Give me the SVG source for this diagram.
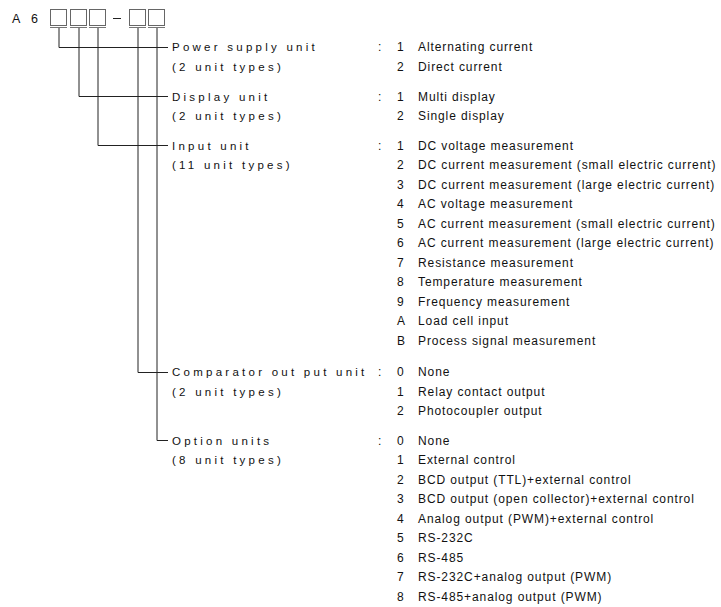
<svg xmlns="http://www.w3.org/2000/svg" width="721" height="607" viewBox="0 0 721 607">
<style>
text{font-family:"Liberation Sans",Arial,sans-serif;fill:#111}
.l{font-size:11.5px;letter-spacing:3.25px}
.r{font-size:12px;letter-spacing:0.9px}
.n{font-size:12px}
.h{font-size:12.5px}
.box{fill:#fff;stroke:#666;stroke-width:1}
.ln{fill:none;stroke:#222;stroke-width:1}
</style>
<rect width="721" height="607" fill="#fff"/>
<g id="code">
<text class="h" x="12" y="23">A</text>
<text class="h" x="31" y="23">6</text>
<rect class="box" x="50.5" y="9.5" width="16" height="16"/>
<rect class="box" x="70.5" y="9.5" width="16" height="16"/>
<rect class="box" x="89.5" y="9.5" width="16" height="16"/>
<line x1="113" y1="18.5" x2="121" y2="18.5" stroke="#222" stroke-width="1"/>
<rect class="box" x="129.5" y="9.5" width="16" height="16"/>
<rect class="box" x="148.5" y="9.5" width="16" height="16"/>
<g stroke="#777" stroke-width="1"><line x1="50" y1="27.5" x2="67" y2="27.5"/><line x1="70" y1="27.5" x2="87" y2="27.5"/><line x1="89" y1="27.5" x2="106" y2="27.5"/><line x1="129" y1="27.5" x2="146" y2="27.5"/><line x1="148" y1="27.5" x2="165" y2="27.5"/></g>
</g>
<g id="connectors">
<path class="ln" d="M59 28V47.5H168"/>
<path class="ln" d="M79 28V96.5H168"/>
<path class="ln" d="M98 28V145.5H168"/>
<path class="ln" d="M138 28V372.5H168"/>
<path class="ln" d="M157 28V440.5H168"/>
</g>
<g id="power">
<text class="l" x="172" y="51">Power supply unit</text>
<text class="l" x="172" y="70.5">(2 unit types)</text>
<text class="n" x="378" y="51">:</text>
<text class="n" x="397" y="51">1</text><text class="r" x="418" y="51">Alternating current</text>
<text class="n" x="397" y="70.5">2</text><text class="r" x="418" y="70.5">Direct current</text>
</g>
<g id="display">
<text class="l" x="172" y="100.5">Display unit</text>
<text class="l" x="172" y="120">(2 unit types)</text>
<text class="n" x="378" y="100.5">:</text>
<text class="n" x="397" y="100.5">1</text><text class="r" x="418" y="100.5">Multi display</text>
<text class="n" x="397" y="120">2</text><text class="r" x="418" y="120">Single display</text>
</g>
<g id="input">
<text class="l" x="172" y="149.5">Input unit</text>
<text class="l" x="172" y="169">(11 unit types)</text>
<text class="n" x="378" y="149.5">:</text>
<text class="n" x="397" y="149.5">1</text><text class="r" x="418" y="149.5">DC voltage measurement</text>
<text class="n" x="397" y="169">2</text><text class="r" x="418" y="169">DC current measurement (small electric current)</text>
<text class="n" x="397" y="188.5">3</text><text class="r" x="418" y="188.5">DC current measurement (large electric current)</text>
<text class="n" x="397" y="208">4</text><text class="r" x="418" y="208">AC voltage measurement</text>
<text class="n" x="397" y="227.5">5</text><text class="r" x="418" y="227.5">AC current measurement (small electric current)</text>
<text class="n" x="397" y="247">6</text><text class="r" x="418" y="247">AC current measurement (large electric current)</text>
<text class="n" x="397" y="266.5">7</text><text class="r" x="418" y="266.5">Resistance measurement</text>
<text class="n" x="397" y="286">8</text><text class="r" x="418" y="286">Temperature measurement</text>
<text class="n" x="397" y="305.5">9</text><text class="r" x="418" y="305.5">Frequency measurement</text>
<text class="n" x="397" y="325">A</text><text class="r" x="418" y="325">Load cell input</text>
<text class="n" x="397" y="344.5">B</text><text class="r" x="418" y="344.5">Process signal measurement</text>
</g>
<g id="comparator">
<text class="l" x="172" y="376">Comparator out put unit</text>
<text class="l" x="172" y="395.5">(2 unit types)</text>
<text class="n" x="378" y="376">:</text>
<text class="n" x="397" y="376">0</text><text class="r" x="418" y="376">None</text>
<text class="n" x="397" y="395.5">1</text><text class="r" x="418" y="395.5">Relay contact output</text>
<text class="n" x="397" y="415">2</text><text class="r" x="418" y="415">Photocoupler output</text>
</g>
<g id="option">
<text class="l" x="172" y="444.5">Option units</text>
<text class="l" x="172" y="464">(8 unit types)</text>
<text class="n" x="378" y="444.5">:</text>
<text class="n" x="397" y="444.5">0</text><text class="r" x="418" y="444.5">None</text>
<text class="n" x="397" y="464">1</text><text class="r" x="418" y="464">External control</text>
<text class="n" x="397" y="483.5">2</text><text class="r" x="418" y="483.5">BCD output (TTL)+external control</text>
<text class="n" x="397" y="503">3</text><text class="r" x="418" y="503">BCD output (open collector)+external control</text>
<text class="n" x="397" y="522.5">4</text><text class="r" x="418" y="522.5">Analog output (PWM)+external control</text>
<text class="n" x="397" y="542">5</text><text class="r" x="418" y="542">RS-232C</text>
<text class="n" x="397" y="561.5">6</text><text class="r" x="418" y="561.5">RS-485</text>
<text class="n" x="397" y="581">7</text><text class="r" x="418" y="581">RS-232C+analog output (PWM)</text>
<text class="n" x="397" y="600.5">8</text><text class="r" x="418" y="600.5">RS-485+analog output (PWM)</text>
</g>
</svg>
